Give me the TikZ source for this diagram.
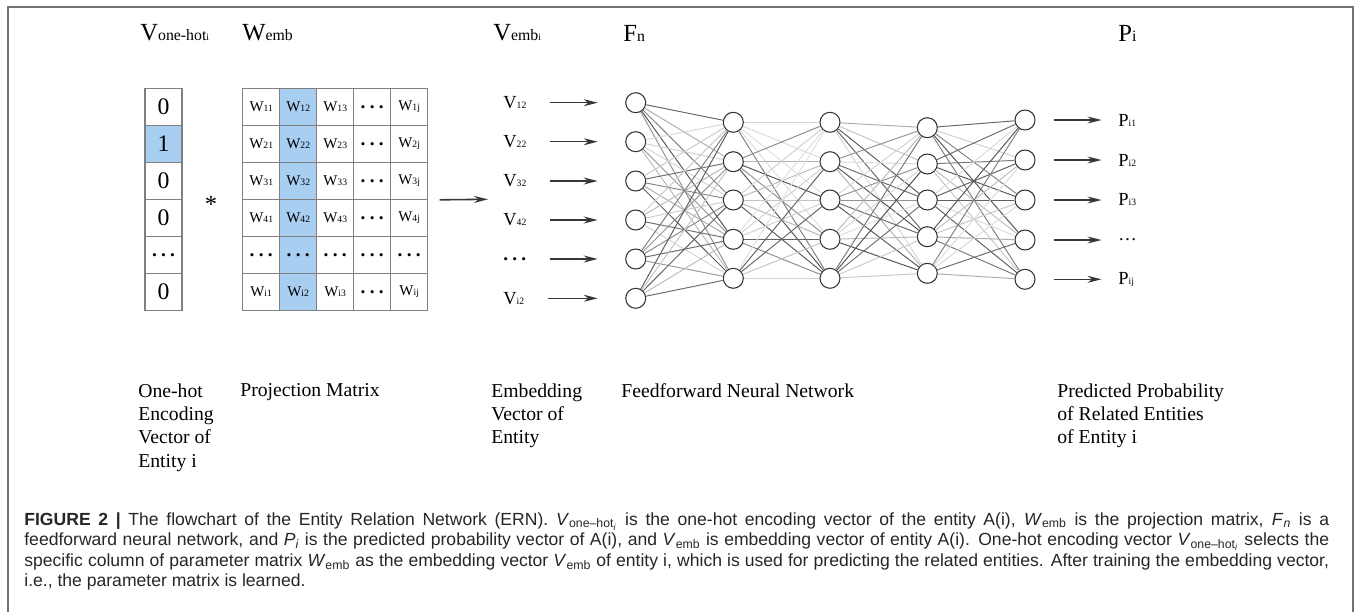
\documentclass[tikz,border=0pt]{standalone}
\usepackage{fontspec}
\setmainfont{Liberation Serif}
\newfontfamily\capfont{Liberation Sans}
\usetikzlibrary{arrows.meta, positioning}
\definecolor{cellblue}{RGB}{168,206,242}
\definecolor{framegray}{RGB}{115,115,115}
\definecolor{arrowgray}{RGB}{55,55,55}
\newcommand{\idx}[1]{{\fontsize{5.5}{6}\selectfont #1}}
\newcommand{\sub}[1]{{\fontsize{9}{9}\selectfont #1}}
\newcommand{\bdots}{{\fontsize{11}{11}\selectfont\bfseries .\kern2.4pt.\kern2.4pt.}}

\begin{document}
\begin{tikzpicture}[
    x=0.02cm, y=-0.02cm,
    cell/.style={rectangle, draw=black!50, line width=0.6pt, minimum size=0.74cm, inner sep=0pt, font=\fontsize{8.5}{9}\selectfont},
    vcell/.style={cell, font=\fontsize{13.5}{14}\selectfont},
    neuron/.style={circle, draw=black!80, fill=white, minimum size=0.4cm, inner sep=0pt, line width=0.6pt},
    arr/.style={-{Stealth[length=2.8mm, width=1.4mm]}, arrowgray, line width=0.9pt},
    head/.style={anchor=base west, inner sep=0pt, font=\fontsize{14}{16}\selectfont},
    lbl/.style={anchor=west, inner sep=0pt, font=\fontsize{10.5}{12}\selectfont},
    desc/.style={anchor=north west, inner sep=0pt, align=left, font=\fontsize{11.2}{13.3}\selectfont},
]
\useasboundingbox (0,0) rectangle (1356,612);
% frame, open at the bottom
\draw[framegray, line width=0.85pt] (8,612) -- (8,7) -- (1353,7) -- (1353,612);

% headers
\node[head] (hv) at (140,40.7) {V\sub{one-hot\idx{i}}};
\node[head] (hw) at (242,40.7) {W\sub{emb}};
\node[head] (hve) at (493,40.7) {V\sub{emb\idx{i}}};
\node[head] (hf) at (623,41.7) {F\sub{n}};
\node[head] (hp) at (1118,41.7) {P\sub{i}};

% one-hot vector
\foreach \v/\f [count=\r] in {0/white,1/cellblue,0/white,0/white,\bdots/white,0/white}
  \node[vcell, fill=\f] (v-\r) at (163.5,{106.8+37*(\r-1)}) {\v};

\node[inner sep=0pt, font=\fontsize{14}{14}\selectfont] (times) at (211,204) {*};

% projection matrix
\fill[cellblue] (279.7,88.3) rectangle (316.7,310);
\foreach \t [count=\c] in {W\idx{11},W\idx{12},W\idx{13},\bdots,W\idx{1j}}
  \node[cell] (m-1-\c) at ({261.2+37*(\c-1)},106.8) {\t};
\foreach \t [count=\c] in {W\idx{21},W\idx{22},W\idx{23},\bdots,W\idx{2j}}
  \node[cell] (m-2-\c) at ({261.2+37*(\c-1)},143.8) {\t};
\foreach \t [count=\c] in {W\idx{31},W\idx{32},W\idx{33},\bdots,W\idx{3j}}
  \node[cell] (m-3-\c) at ({261.2+37*(\c-1)},180.8) {\t};
\foreach \t [count=\c] in {W\idx{41},W\idx{42},W\idx{43},\bdots,W\idx{4j}}
  \node[cell] (m-4-\c) at ({261.2+37*(\c-1)},217.8) {\t};
\foreach \t [count=\c] in {\bdots,\bdots,\bdots,\bdots,\bdots}
  \node[cell] (m-5-\c) at ({261.2+37*(\c-1)},254.8) {\t};
\foreach \t [count=\c] in {W\idx{i1},W\idx{i2},W\idx{i3},\bdots,W\idx{ij}}
  \node[cell] (m-6-\c) at ({261.2+37*(\c-1)},291.8) {\t};

\coordinate (embin) at (488,199.3);
\draw[arr] ([xshift=0.23cm]m-3-5.south east) -- (embin);

% feedforward network
\foreach \y [count=\k] in {102.7,141.7,181,220,259,298.3}
  \node[neuron] (a-\k) at (635.7,\y) {};
\foreach \y [count=\k] in {122.3,161.7,200,239.3,278.3}
  \node[neuron] (b-\k) at (733.3,\y) {};
\foreach \y [count=\k] in {122.3,161.7,200,239.3,278.3}
  \node[neuron] (c-\k) at (830,\y) {};
\foreach \y [count=\k] in {127.7,164,200,236.7,273.3}
  \node[neuron] (d-\k) at (927.3,\y) {};
\foreach \y [count=\k] in {120,160,200,240,279.3}
  \node[neuron] (e-\k) at (1025,\y) {};

\pgfmathsetseed{17}
\foreach \p/\q/\n in {a/b/6,b/c/5,c/d/5,d/e/5}
  \foreach \i in {1,...,\n}
    \foreach \j in {1,...,5} {
      \pgfmathsetmacro{\s}{int(12+58*rnd)}
      \draw[black!\s, line width=0.55pt] (\p-\i) -- (\q-\j);
    }

% embedding inputs
\foreach \t/\y [count=\k] in {V\idx{12}/102.7,V\idx{22}/141.7,V\idx{32}/181,V\idx{42}/220,\bdots/259,V\idx{i2}/298.3} {
  \node[lbl] (vin-\k) at (503,\y) {\t};
  \draw[arr] ([xshift=0.46cm]vin-\k.east) -- ([xshift=-0.55cm]a-\k.west);
}

% predicted outputs
\foreach \t/\y [count=\k] in {P\idx{i1}/120,P\idx{i2}/160,P\idx{i3}/200,\ldots/240,P\idx{ij}/279.3} {
  \node[lbl] (pout-\k) at (1118,\y) {\t};
  \draw[arr] ([xshift=0.36cm]e-\k.east) -- ([xshift=-0.33cm]pout-\k.west);
}

% descriptions
\node[desc] (d1) at (138,383) {One-hot\\Encoding\\Vector of\\Entity i};
\node[desc] (d2) at (240,383) {Projection Matrix};
\node[desc] (d3) at (491,383) {Embedding\\Vector of\\Entity};
\node[desc] (d4) at (621,383) {Feedforward Neural Network};
\node[desc] (d5) at (1057,383) {Predicted Probability\\of Related Entities\\of Entity i};

% caption
\node[anchor=north west, inner sep=0pt, text width=26.1cm, align=justify, text=black!85,
      font=\capfont\fontsize{10}{11.7}\selectfont] (caption) at (24,512) {%
\textbf{FIGURE 2 |} The flowchart of the Entity Relation Network (ERN). \textit{V}\textsubscript{one–hot\textsubscript{\textit{i}}} is the one-hot encoding vector of the entity A(i), \textit{W}\textsubscript{emb} is the projection matrix, \textit{F}\textsubscript{\textit{n}} is a\linebreak
feedforward neural network, and \textit{P}\textsubscript{\textit{i}} is the predicted probability vector of A(i), and \textit{V}\textsubscript{emb} is embedding vector of entity A(i). One-hot encoding vector \textit{V}\textsubscript{one–hot\textsubscript{\textit{i}}} selects the\linebreak
specific column of parameter matrix \textit{W}\textsubscript{emb} as the embedding vector \textit{V}\textsubscript{emb} of entity i, which is used for predicting the related entities. After training the embedding vector,\linebreak
i.e., the parameter matrix is learned.};
\end{tikzpicture}
\end{document}
